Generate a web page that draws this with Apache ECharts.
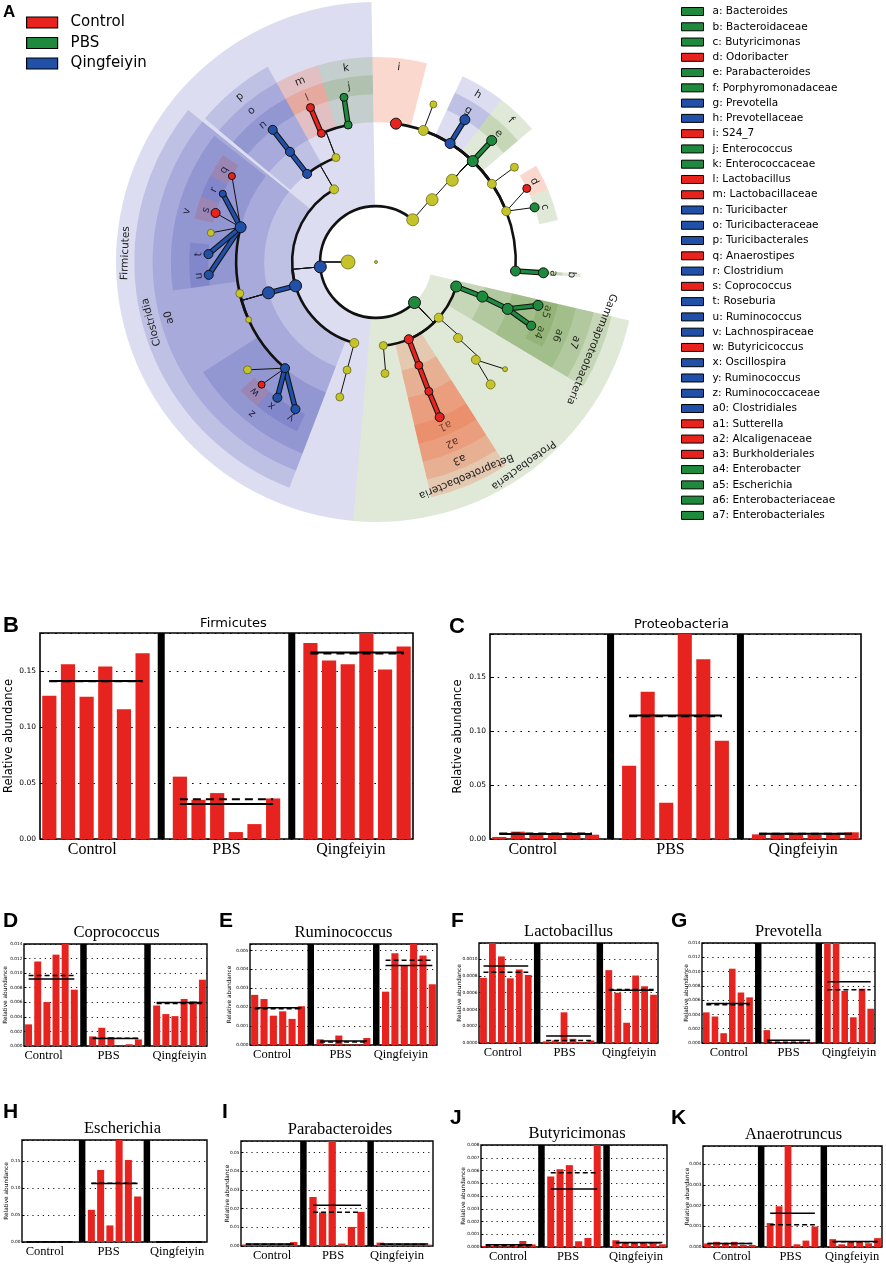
<!DOCTYPE html>
<html>
<head>
<meta charset="utf-8">
<script src="https://cdn.jsdelivr.net/npm/echarts/dist/echarts.min.js"></script>
<style>
  html, body { margin: 0; padding: 0; background: #fff; }
  #chart { width: 886px; height: 1264px; }
</style>
</head>
<body>
<div id="chart"></div>
<script>
// ---- cladogram (LEfSe) ----
const groupNames = ['Control', 'PBS', 'Qingfeiyin'];

// [taxon, parent, level, angle (deg, clockwise from top), enriched group (-1 none), node weight]
const cladeNodes = [
  ['root', '', 0, 0, -1, 0],
  ['Bacteria', '', 1, 270, -1, 11],
  ['Bacteroidetes', 'Bacteria', 2, 41, -1, 9],
  ['Proteobacteria', 'Bacteria', 2, 136.5, 1, 9],
  ['Firmicutes', 'Bacteria', 2, 265, 2, 9],
  ['Bacteroidia', 'Bacteroidetes', 3, 42, -1, 9],
  ['Gammaproteobacteria', 'Proteobacteria', 3, 107, 1, 8],
  ['c_131', 'Proteobacteria', 3, 131.6, -1, 6],
  ['Betaproteobacteria', 'Proteobacteria', 3, 157, 0, 6],
  ['c_175', 'Proteobacteria', 3, 175, -1, 5],
  ['c_195', 'Firmicutes', 3, 195, -1, 6],
  ['Clostridia', 'Firmicutes', 3, 253.5, 2, 9],
  ['Bacilli', 'Firmicutes', 3, 330, -1, 6],
  ['Bacteroidales', 'Bacteroidia', 4, 43, -1, 9],
  ['Enterobacteriales', 'Gammaproteobacteria', 4, 108, 1, 8],
  ['o_133', 'c_131', 4, 132.8, -1, 6],
  ['Burkholderiales', 'Betaproteobacteria', 4, 157.5, 0, 5],
  ['o_175', 'c_175', 4, 175.4, -1, 5],
  ['o_195', 'c_195', 4, 195, -1, 5],
  ['Clostridiales', 'Clostridia', 4, 254, 2, 9],
  ['Turicibacterales', 'Bacilli', 4, 322, 2, 6],
  ['Lactobacillales', 'Bacilli', 4, 339, -1, 5],
  ['S24_7', 'Bacteroidales', 5, 8.2, 0, 8],
  ['f_20', 'Bacteroidales', 5, 19.8, -1, 7],
  ['Prevotellaceae', 'Bacteroidales', 5, 32, 2, 7],
  ['Porphyromonadaceae', 'Bacteroidales', 5, 43.8, 1, 8],
  ['f_56', 'Bacteroidales', 5, 56, -1, 6],
  ['f_69', 'Bacteroidales', 5, 68.7, -1, 6],
  ['Bacteroidaceae', 'Bacteroidales', 5, 93.7, 1, 7],
  ['Enterobacteriaceae', 'Enterobacteriales', 5, 109.6, 1, 8],
  ['f_134', 'o_133', 5, 134.4, -1, 6],
  ['Alcaligenaceae', 'Burkholderiales', 5, 157.8, 0, 5],
  ['f_195', 'o_195', 5, 195, -1, 5],
  ['Ruminococcaceae', 'Clostridiales', 5, 220.6, 2, 6],
  ['f_246', 'Clostridiales', 5, 245.6, -1, 3],
  ['f_257', 'Clostridiales', 5, 257, -1, 5],
  ['Lachnospiraceae', 'Clostridiales', 5, 284.4, 2, 8],
  ['Turicibacteraceae', 'Turicibacterales', 5, 322, 2, 6],
  ['Lactobacillaceae', 'Lactobacillales', 5, 337, 0, 5],
  ['Enterococcaceae', 'Lactobacillales', 5, 348.5, 1, 5],
  ['g_20', 'f_20', 6, 20, -1, 4],
  ['Prevotella', 'Prevotellaceae', 6, 32, 2, 7],
  ['Parabacteroides', 'Porphyromonadaceae', 6, 43.6, 1, 7],
  ['g_56', 'f_56', 6, 55.6, -1, 5],
  ['Odoribacter', 'f_69', 6, 64, 0, 5],
  ['Butyricimonas', 'f_69', 6, 71, 1, 6],
  ['Bacteroides', 'Bacteroidaceae', 6, 93.7, 1, 7],
  ['Escherichia', 'Enterobacteriaceae', 6, 105, 1, 7],
  ['Enterobacter', 'Enterobacteriaceae', 6, 112.3, 1, 6],
  ['g_130', 'f_134', 6, 129.7, -1, 2],
  ['g_137', 'f_134', 6, 136.9, -1, 6],
  ['Sutterella', 'Alcaligenaceae', 6, 157.7, 0, 6],
  ['Ruminococcus_y', 'Ruminococcaceae', 6, 208.7, 2, 6],
  ['Oscillospira', 'Ruminococcaceae', 6, 216, 2, 6],
  ['Butyricicoccus', 'Ruminococcaceae', 6, 223, 0, 4],
  ['g_230', 'Ruminococcaceae', 6, 230, -1, 5],
  ['Ruminococcus_u', 'Lachnospiraceae', 6, 265.6, 2, 6],
  ['Roseburia', 'Lachnospiraceae', 6, 272.7, 2, 6],
  ['g_280', 'Lachnospiraceae', 6, 280, -1, 4],
  ['Coprococcus', 'Lachnospiraceae', 6, 287, 0, 6],
  ['Clostridium', 'Lachnospiraceae', 6, 294, 2, 4],
  ['Anaerostipes', 'Lachnospiraceae', 6, 300.8, 0, 4],
  ['Turicibacter', 'Turicibacteraceae', 6, 322, 2, 6],
  ['Lactobacillus', 'Lactobacillaceae', 6, 337, 0, 5],
  ['Enterococcus', 'Enterococcaceae', 6, 349, 1, 5]
];

// biomarker clades: [label, taxon, level, group, from angle, to angle]
const cladeMarks = [
  ['Firmicutes', 'Firmicutes', 2, 2, 185, 359],
  ['Proteobacteria', 'Proteobacteria', 2, 1, 103, 185],
  ['Clostridia', 'Clostridia', 3, 2, 201, 309],
  ['Gammaproteobacteria', 'Gammaproteobacteria', 3, 1, 103, 121],
  ['Betaproteobacteria', 'Betaproteobacteria', 3, 0, 147.5, 166.8],
  ['a', 'Bacteroides', 6, 1, 93.2, 94.2],
  ['b', 'Bacteroidaceae', 5, 1, 93.2, 94.2],
  ['c', 'Butyricimonas', 6, 1, 67, 77],
  ['d', 'Odoribacter', 6, 0, 59, 67],
  ['e', 'Parabacteroides', 6, 1, 37.7, 49.5],
  ['f', 'Porphyromonadaceae', 5, 1, 37.7, 49.5],
  ['g', 'Prevotella', 6, 2, 25, 37.7],
  ['h', 'Prevotellaceae', 5, 2, 25, 37.7],
  ['i', 'S24_7', 5, 0, 359, 14.4],
  ['j', 'Enterococcus', 6, 1, 343.5, 359],
  ['k', 'Enterococcaceae', 5, 1, 343.5, 359],
  ['l', 'Lactobacillus', 6, 0, 331, 343.5],
  ['m', 'Lactobacillaceae', 5, 0, 331, 343.5],
  ['n', 'Turicibacter', 6, 2, 310, 331],
  ['o', 'Turicibacteraceae', 5, 2, 310, 331],
  ['p', 'Turicibacterales', 4, 2, 310, 331],
  ['q', 'Anaerostipes', 6, 0, 297.5, 305],
  ['r', 'Clostridium', 6, 2, 290.5, 297.5],
  ['s', 'Coprococcus', 6, 0, 283.5, 290.5],
  ['t', 'Roseburia', 6, 2, 269, 276],
  ['u', 'Ruminococcus', 6, 2, 262, 269],
  ['v', 'Lachnospiraceae', 5, 2, 262, 308],
  ['w', 'Butyricicoccus', 6, 0, 219.5, 226.5],
  ['x', 'Oscillospira', 6, 2, 212.5, 219.5],
  ['y', 'Ruminococcus', 6, 2, 205, 212.5],
  ['z', 'Ruminococcaceae', 5, 2, 201, 237.5],
  ['a0', 'Clostridiales', 4, 2, 201, 309],
  ['a1', 'Sutterella', 6, 0, 147.5, 166.8],
  ['a2', 'Alcaligenaceae', 5, 0, 147.5, 166.8],
  ['a3', 'Burkholderiales', 4, 0, 147.5, 166.8],
  ['a4', 'Enterobacter', 6, 1, 109.5, 117],
  ['a5', 'Escherichia', 6, 1, 103, 109.5],
  ['a6', 'Enterobacteriaceae', 5, 1, 103, 121],
  ['a7', 'Enterobacteriales', 4, 1, 103, 121]
];

// ---- relative abundance per sample: [Control x6, PBS x6, Qingfeiyin x6] ----
const firmicutesAb = [[0.128, 0.156, 0.127, 0.154, 0.116, 0.166], [0.0557, 0.035, 0.041, 0.0062, 0.0133, 0.0362], [0.175, 0.1595, 0.156, 0.185, 0.1515, 0.172]];
const proteobacteriaAb = [[0.0019, 0.0068, 0.005, 0.005, 0.0056, 0.004], [0.068, 0.1364, 0.0336, 0.1905, 0.1667, 0.091], [0.0043, 0.0049, 0.0049, 0.004, 0.0049, 0.0062]];
const coprococcusAb = [[0.00297, 0.0116, 0.00603, 0.01254, 0.0143, 0.00773], [0.00132, 0.0025, 0.00123, 0.00003, 0.00024, 0.0009], [0.00556, 0.00438, 0.0041, 0.00646, 0.00613, 0.0091]];
const ruminococcusAb = [[0.00265, 0.00243, 0.00155, 0.00178, 0.00138, 0.00205], [0.0003, 0.00002, 0.0005, 0.00002, 0.00002, 0.00037], [0.00282, 0.00485, 0.00423, 0.00536, 0.00473, 0.00321]];
const lactobacillusAb = [[0.000775, 0.00124, 0.00103, 0.00077, 0.000875, 0.00081], [0.00002, 0.00003, 0.000365, 0.00005, 0.00001, 0.00003], [0.000867, 0.000598, 0.000241, 0.000803, 0.000675, 0.000574]];
const prevotellaAb = [[0.00429, 0.00371, 0.00137, 0.0104, 0.00707, 0.00639], [0.0018, 0.00015, 0.0001, 0.0001, 0.0001, 0.0001], [0.0141, 0.0141, 0.0073, 0.0036, 0.0076, 0.0048]];
const escherichiaAb = [[0, 0, 0, 0, 0, 0], [0.0597, 0.1335, 0.0307, 0.19, 0.152, 0.0843], [0, 0, 0, 0, 0, 0]];
const parabacteroidesAb = [[0.0008, 0.0008, 0.0009, 0.0009, 0.0009, 0.0021], [0.0262, 0.0179, 0.057, 0.0013, 0.0102, 0.0182], [0.0018, 0.001, 0.001, 0.001, 0.001, 0.0007]];
const butyricimonasAb = [[0.00008, 0.00008, 0.0001, 0.0001, 0.00047, 0.0002], [0.00553, 0.0061, 0.00642, 0.00045, 0.00071, 0.0081], [0.00053, 0.00034, 0.00034, 0.00032, 0.00034, 0.00021]];
const anaerotruncusAb = [[0.00017, 0.00025, 0.00017, 0.00025, 0.0001, 0.0001], [0.00116, 0.00197, 0.00526, 0.00013, 0.00031, 0.00099], [0.00038, 0.00013, 0.00025, 0.00025, 0.00018, 0.00043]];

const panelTitles = ['Firmicutes', 'Proteobacteria', 'Coprococcus', 'Ruminococcus', 'Lactobacillus', 'Prevotella', 'Escherichia', 'Parabacteroides', 'Butyricimonas', 'Anaerotruncus'];
const panelValues = [firmicutesAb, proteobacteriaAb, coprococcusAb, ruminococcusAb, lactobacillusAb, prevotellaAb, escherichiaAb, parabacteroidesAb, butyricimonasAb, anaerotruncusAb];
const yMax = [0.184, 0.19, 0.014, 0.00534, 0.00119, 0.014, 0.189, 0.0561, 0.008, 0.00489];
const yStep = [0.05, 0.05, 0.002, 0.001, 0.0002, 0.002, 0.05, 0.01, 0.001, 0.001];
const yDecimals = [2, 2, 3, 3, 4, 3, 2, 2, 3, 3];

// ---- layout / style ----
const groupColors = ['#e8231e', '#1e8a3e', '#2050a8'];
const shadeColors = ['rgba(240,105,60,0.26)', 'rgba(90,140,50,0.19)', 'rgba(50,55,165,0.17)'];
const nodeYellow = '#c4c42a';
const barRed = '#e6231e';
const sans = 'DejaVu Sans';
const serif = 'Liberation Serif';
const panelRects = [
  [40, 633, 373, 206], [490, 634, 371, 205],
  [24, 944, 183, 102], [250, 944, 187, 101], [479, 943, 179, 100], [702, 943, 173, 100],
  [22, 1140, 185, 102], [241, 1141, 192, 105], [481, 1145, 186, 102], [703, 1146, 179, 101]
];
const titleShift = [7, 6, 1, 0, 0, 0, 8, 3, 3, 1];
// horizontal nudge (px, positive = left) of the Control / PBS / Qingfeiyin labels
const labelShift = [[10, 0, 0], [19, 5, -4], [11, 7, -3], [9, 3, 5], [6, 4, -1], [2, 0, -3], [8, 6, -1], [1, 4, 4], [4, 6, 0], [1, 2, 0]];
const yNameGap = [25, 26, 16, 18, 17, 13, 13, 11, 15, 13];
const panelLetters = [
  ['A', 3, 4, 17], ['B', 3, 615, 22], ['C', 449, 616, 22],
  ['D', 3, 911, 21], ['E', 219, 911, 21], ['F', 451, 911, 21], ['G', 671, 911, 21],
  ['H', 3, 1102, 21], ['I', 222, 1102, 21], ['J', 450, 1108, 21], ['K', 671, 1108, 21]
];

// ---- cladogram helpers ----
const nodeById = {};
cladeNodes.forEach(n => { nodeById[n[0]] = n; });
const cladeOuter = level => 6.68 + (6 - level) * 0.655;

// edge kind: 0 = radial + arc, 1 = thin straight, 2 = thick coloured straight
const edgeData = cladeNodes.filter(n => n[1]).map(n => {
  const p = nodeById[n[1]];
  const same = p[4] >= 0 && p[4] === n[4];
  let kind;
  if (n[2] === 6) kind = same ? 2 : 1;
  else kind = (same && Math.abs(p[3] - n[3]) < 5) ? 2 : 0;
  return [p[2], p[3], n[2], n[3], kind, Math.max(n[4], 0)];
});

function renderEdge(params, api) {
  const cs = params.coordSys;
  const pr = api.value(0), pa = api.value(1), cr = api.value(2), ca = api.value(3);
  const kind = api.value(4), gi = api.value(5);
  const p = api.coord([pr, pa]), c = api.coord([cr, ca]);
  const seg = { x1: p[0], y1: p[1], x2: c[0], y2: c[1] };
  if (kind === 2) {
    return { type: 'group', children: [
      { type: 'line', shape: seg, style: { stroke: '#111', lineWidth: 5.5, lineCap: 'round' } },
      { type: 'line', shape: seg, style: { stroke: groupColors[gi], lineWidth: 3.4, lineCap: 'round' } }
    ] };
  }
  if (kind === 1) {
    return { type: 'line', shape: seg, style: { stroke: '#111', lineWidth: 1 } };
  }
  const q = api.coord([cr, pa]);
  const R = Math.hypot(c[0] - cs.cx, c[1] - cs.cy);
  const a1 = Math.atan2(q[1] - cs.cy, q[0] - cs.cx);
  const a2 = Math.atan2(c[1] - cs.cy, c[0] - cs.cx);
  let d = a2 - a1;
  while (d > Math.PI) d -= 2 * Math.PI;
  while (d < -Math.PI) d += 2 * Math.PI;
  const st = d >= 0 ? a1 : a2;
  return { type: 'group', children: [
    { type: 'line', shape: { x1: p[0], y1: p[1], x2: q[0], y2: q[1] }, style: { stroke: '#111', lineWidth: 1 } },
    { type: 'arc', shape: { cx: cs.cx, cy: cs.cy, r: R, startAngle: st, endAngle: st + Math.abs(d), clockwise: true },
      style: { stroke: '#111', lineWidth: 2.6, fill: null } }
  ] };
}

function renderClade(params, api, m) {
  const cs = params.coordSys;
  const level = m[2], from = m[4];
  const sweep = ((m[5] - m[4]) % 360 + 360) % 360;
  const outer = cladeOuter(level);
  const pIn = api.coord([level, from]);
  const pOut = api.coord([outer, from]);
  const rIn = Math.hypot(pIn[0] - cs.cx, pIn[1] - cs.cy);
  const rOut = Math.hypot(pOut[0] - cs.cx, pOut[1] - cs.cy);
  const start = Math.atan2(pIn[1] - cs.cy, pIn[0] - cs.cx);
  const mid = from + sweep / 2;
  const lp = api.coord([outer - 0.33, mid]);
  return { type: 'group', children: [
    { type: 'sector', shape: { cx: cs.cx, cy: cs.cy, r0: rIn, r: rOut, startAngle: start, endAngle: start + sweep * Math.PI / 180, clockwise: true },
      style: { fill: shadeColors[m[3]] } },
    { type: 'text', x: lp[0], y: lp[1], rotation: -mid * Math.PI / 180,
      style: { text: m[0], fontSize: 10.5, fontFamily: sans, fill: '#222', align: 'center', verticalAlign: 'middle' } }
  ] };
}

const cladeSeries = cladeMarks.map(m => ({
  type: 'custom',
  name: m[0].length <= 2 ? m[0] + ': ' + m[1] : m[0],
  coordinateSystem: 'polar',
  silent: true,
  z: 1,
  itemStyle: { color: groupColors[m[3]] },
  data: [[m[2], m[4], m[5]]],
  renderItem: (params, api) => renderClade(params, api, m)
}));

const edgeSeries = {
  type: 'custom', name: 'edges', coordinateSystem: 'polar', silent: true, z: 2,
  data: edgeData, renderItem: renderEdge
};

const nodeSeries = [-1, 0, 1, 2].map(g => ({
  type: 'scatter', coordinateSystem: 'polar', silent: true, z: 3,
  name: g < 0 ? 'unchanged' : groupNames[g],
  symbolSize: v => 3 + v[2],
  itemStyle: {
    color: g < 0 ? nodeYellow : groupColors[g],
    borderColor: g < 0 ? '#5c5c18' : '#111',
    borderWidth: g < 0 ? 0.7 : 1, opacity: 1
  },
  data: cladeNodes.filter(n => n[4] === g).map(n => [n[2], n[3], n[5]])
}));

// ---- bar panels ----
const mean = a => a.reduce((s, v) => s + v, 0) / a.length;
const median = a => {
  const s = [...a].sort((x, y) => x - y), n = s.length;
  return n % 2 ? s[(n - 1) / 2] : (s[n / 2 - 1] + s[n / 2]) / 2;
};
const slotNames = Array.from({ length: 20 }, (_, i) => String(i));
function spread(groups, fn) {
  const out = [];
  groups.forEach((g, gi) => {
    const v = fn(g);
    g.forEach(x => out.push(v === null ? x : v));
    if (gi < groups.length - 1) out.push('-');
  });
  return out;
}

const grids = [], xAxes = [], yAxes = [], barSeries = [];
panelValues.forEach((vals, i) => {
  const big = i < 2;
  const r = panelRects[i];
  grids.push({ left: r[0], top: r[1], width: r[2], height: r[3], show: true, borderColor: '#000', borderWidth: big ? 1.6 : 1.4, backgroundColor: 'transparent', containLabel: false, outerBoundsMode: 'none' });
  xAxes.push({ type: 'category', gridIndex: i, data: slotNames, show: false });
  xAxes.push({
    type: 'category', gridIndex: i, data: slotNames, position: 'top',
    axisLine: { show: false, onZero: false }, axisTick: { show: false }, axisLabel: { show: false },
    name: panelTitles[i], nameLocation: 'middle', nameGap: 3,
    nameTextStyle: { fontFamily: big ? sans : serif, fontSize: big ? 13 : 16.5, color: '#000', padding: [0, 0, 0, 2 * titleShift[i]] }
  });
  xAxes.push({
    type: 'category', gridIndex: i, position: 'bottom',
    data: groupNames.map((g, k) => {
      const s = labelShift[i][k];
      return { value: g, textStyle: { padding: s >= 0 ? [0, 2 * s, 0, 0] : [0, 0, 0, -2 * s] } };
    }),
    axisLine: { show: false, onZero: false }, axisTick: { show: false },
    axisLabel: { interval: 0, hideOverlap: false, margin: 3, fontFamily: serif, fontSize: big ? 16 : 12.5, color: '#000' }
  });
  const step = yStep[i], dec = yDecimals[i];
  yAxes.push({
    type: 'value', gridIndex: i, min: 0, max: yMax[i], interval: step,
    axisLine: { show: false },
    axisTick: { show: true, inside: true, length: big ? 4 : 2.5, lineStyle: { color: '#000' } },
    splitLine: { show: true, lineStyle: { color: '#000', width: big ? 1.1 : 0.9, type: big ? [1.6, 6] : [1.2, 4] } },
    axisLabel: {
      fontSize: big ? 7.5 : 4.3, color: '#000', margin: big ? 4 : 1.5, fontFamily: sans,
      formatter: v => (Math.abs(v / step - Math.round(v / step)) < 1e-6 ? v.toFixed(dec) : '')
    },
    name: 'Relative abundance', nameLocation: 'middle', nameGap: yNameGap[i], nameMoveOverlap: false,
    nameTextStyle: { fontFamily: sans, fontSize: big ? 11.5 : 5.8, color: '#000' }
  });
  const xa = i * 3;
  barSeries.push({
    type: 'bar', xAxisIndex: xa, yAxisIndex: i, barWidth: '76%', silent: true,
    itemStyle: { color: barRed }, data: spread(vals, () => null)
  });
  barSeries.push({
    type: 'bar', xAxisIndex: xa + 1, yAxisIndex: i, barWidth: big ? 7 : 6.5, silent: true, z: 3,
    itemStyle: { color: '#000' },
    data: slotNames.map((_, k) => (k === 6 || k === 13 ? yMax[i] : '-'))
  });
  barSeries.push({
    type: 'line', xAxisIndex: xa + 1, yAxisIndex: i, symbol: 'none', silent: true, z: 4,
    lineStyle: { color: '#000', width: big ? 2 : 1.5, type: big ? [8, 5] : [5, 3] },
    data: spread(vals, median)
  });
  barSeries.push({
    type: 'line', xAxisIndex: xa + 1, yAxisIndex: i, symbol: 'none', silent: true, z: 4,
    lineStyle: { color: '#000', width: big ? 2 : 1.5 },
    data: spread(vals, mean)
  });
});

const option = {
  animation: false,
  textStyle: { fontFamily: sans },
  polar: { center: [376, 262], radius: 260 },
  radiusAxis: { type: 'value', min: 0, max: 9.3, show: false },
  angleAxis: { type: 'value', min: 0, max: 360, startAngle: 90, clockwise: true, show: false },
  legend: [
    {
      data: groupNames, orient: 'vertical', left: 26, top: 15, padding: 0, icon: 'rect', selectedMode: false,
      itemWidth: 31, itemHeight: 11, itemGap: 5.5,
      itemStyle: { borderColor: '#000', borderWidth: 1.2 },
      textStyle: { fontSize: 15, lineHeight: 15, color: '#000', fontFamily: sans, padding: [0, 0, 0, 8] }
    },
    {
      data: cladeMarks.filter(m => m[0].length <= 2).map(m => m[0] + ': ' + m[1]),
      orient: 'vertical', left: 681, top: 5, padding: 0, icon: 'rect', selectedMode: false,
      itemWidth: 22, itemHeight: 8, itemGap: 2.27,
      itemStyle: { borderColor: '#000', borderWidth: 1 },
      textStyle: { fontSize: 10.5, lineHeight: 13, color: '#000', fontFamily: sans, padding: [0, 0, 0, 4] }
    }
  ],
  grid: grids,
  xAxis: xAxes,
  yAxis: yAxes,
  graphic: panelLetters.map(l => ({
    type: 'text', x: l[1], y: l[2], silent: true,
    style: { text: l[0], fontSize: l[3], fontWeight: 'bold', fontFamily: 'Liberation Sans', fill: '#000' }
  })),
  series: [...cladeSeries, edgeSeries, ...nodeSeries, ...barSeries]
};

const chart = echarts.init(document.getElementById('chart'));
chart.setOption(option);
</script>
</body>
</html>
